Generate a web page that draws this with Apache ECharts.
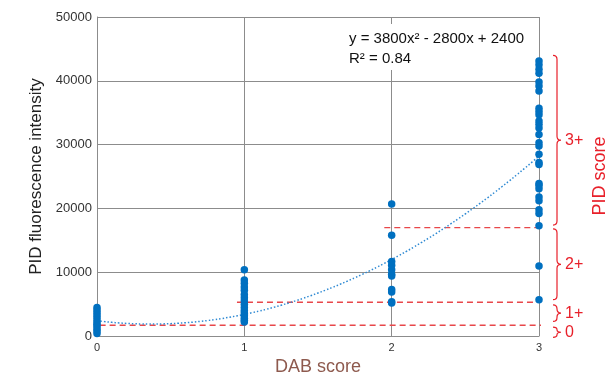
<!DOCTYPE html>
<html>
<head>
<meta charset="utf-8">
<script src="https://cdn.jsdelivr.net/npm/echarts@6/dist/echarts.min.js"></script>
<style>
  html, body { margin: 0; padding: 0; background: #fff; }
  #chart { width: 609px; height: 381px; }
</style>
</head>
<body>
<div id="chart"></div>
<script>
// measured points per DAB score
const dabScores = [0, 1, 2, 3]
const dab0 = [4500, 4100, 3700, 3300, 2900, 2500, 2100, 1800, 1500, 1100, 800, 400]
const dab1 = [10400, 8800, 8300, 7700, 7200, 6500, 6000, 5500, 5000, 4500, 4000, 3600, 3200, 2800, 2500, 2200]
const dab2 = [20700, 15800, 11700, 11100, 10400, 9700, 9400, 7300, 6900, 5400, 5200]
const dab3 = [43100, 42500, 41800, 41200, 39800, 39200, 38400, 35700, 35200, 34700, 33700, 33200,
  32600, 31600, 30300, 29800, 28500, 27200, 26900, 23900, 23600, 23100, 21800, 21200, 19800,
  19200, 17300, 11000, 5700]

// polynomial trend y = a x^2 + b x + c (from the label)
const trendCoef = [3800, -2800, 2400]

// PID score cut-offs (red dashed) and where each line starts on x
const cutoffs = [1700, 5300, 17000]
const cutoffStart = [-0.05, 0.95, 1.95]
const cutoffEnd = 3.11

// PID score braces: [low, high]
const braceLabels = ['0', '1+', '2+', '3+']
const braceLow = [-200, 2300, 5700, 17400]
const braceHigh = [1400, 4900, 16800, 44000]

const chart = echarts.init(document.getElementById('chart'))

let points = []
;[dab0, dab1, dab2, dab3].forEach((vals, i) => {
  vals.forEach(v => points.push([dabScores[i], v]))
})

let trend = []
for (let i = 0; i <= 60; i++) {
  const x = i * 0.05
  trend.push([x, trendCoef[0] * x * x + trendCoef[1] * x + trendCoef[2]])
}

let series = []
cutoffs.forEach((c, i) => {
  series.push({
    type: 'line',
    data: [[cutoffStart[i], c], [cutoffEnd, c]],
    symbol: 'none',
    clip: false,
    silent: true,
    lineStyle: { color: '#E8474A', width: 1.4, type: [6, 4] },
    z: 3
  })
})
series.push({
  type: 'line',
  data: trend,
  symbol: 'none',
  smooth: true,
  lineStyle: { color: '#2F8AD3', width: 1.5, type: [1.5, 2] },
  z: 4
})
series.push({
  type: 'scatter',
  data: points,
  symbolSize: 7.5,
  itemStyle: { color: '#0070C0', opacity: 1 },
  z: 5
})
series.push({
  type: 'custom',
  clip: false,
  silent: true,
  data: braceLabels.map((l, i) => [braceLow[i], braceHigh[i], i]),
  renderItem: function (params, api) {
    const lo = api.coord([3, api.value(0)])
    const hi = api.coord([3, api.value(1)])
    const x0 = lo[0] + 14
    const xm = x0 + 4
    const xp = xm + 4
    const yt = hi[1]
    const yb = lo[1]
    const ym = (yt + yb) / 2
    const r = Math.min(4, (yb - yt) / 4)
    const d = 'M' + x0 + ' ' + yt +
      ' Q' + xm + ' ' + yt + ' ' + xm + ' ' + (yt + r) +
      ' L' + xm + ' ' + (ym - r) +
      ' Q' + xm + ' ' + ym + ' ' + xp + ' ' + ym +
      ' Q' + xm + ' ' + ym + ' ' + xm + ' ' + (ym + r) +
      ' L' + xm + ' ' + (yb - r) +
      ' Q' + xm + ' ' + yb + ' ' + x0 + ' ' + yb
    return {
      type: 'group',
      children: [{
        type: 'path',
        shape: { pathData: d },
        style: { fill: 'none', stroke: '#E8202A', lineWidth: 1.2 }
      }, {
        type: 'text',
        x: xp + 4,
        y: ym,
        style: {
          text: braceLabels[api.value(2)],
          fill: '#E8202A',
          font: '16px "Liberation Sans", Arial, sans-serif',
          verticalAlign: 'middle'
        }
      }]
    }
  },
  z: 6
})

chart.setOption({
  animation: false,
  grid: { left: 97, right: 70, top: 17, bottom: 39 },
  xAxis: {
    type: 'value',
    min: 0,
    max: 3,
    interval: 1,
    name: 'DAB score',
    nameLocation: 'middle',
    nameGap: 20,
    nameTextStyle: { color: '#8E5A4E', fontSize: 18, fontFamily: 'Liberation Sans' },
    axisLine: { show: true, lineStyle: { color: '#8c8c8c' } },
    axisTick: { show: false },
    axisLabel: { color: '#333', fontSize: 11, margin: 6, fontFamily: 'Liberation Sans' },
    splitLine: { show: true, lineStyle: { color: '#8c8c8c', width: 1 } }
  },
  yAxis: {
    type: 'value',
    min: 0,
    max: 50000,
    interval: 10000,
    name: 'PID fluorescence intensity',
    nameLocation: 'middle',
    nameGap: 52,
    nameTextStyle: { color: '#222', fontSize: 17, fontFamily: 'Liberation Sans' },
    axisLine: { show: true, lineStyle: { color: '#8c8c8c' } },
    axisTick: { show: false },
    axisLabel: {
      color: '#333', fontSize: 13, margin: 5, fontFamily: 'Liberation Sans',
      formatter: v => String(v)
    },
    splitLine: { show: true, lineStyle: { color: '#8c8c8c', width: 1 } }
  },
  graphic: [{
    type: 'rect',
    left: 344,
    top: 24,
    shape: { width: 188, height: 46 },
    style: { fill: '#fff' },
    z: 10
  }, {
    type: 'text',
    left: 349,
    top: 31,
    z: 11,
    style: { text: 'y = 3800x² - 2800x + 2400', fill: '#111', font: '15px "Liberation Sans", Arial, sans-serif' }
  }, {
    type: 'text',
    left: 349,
    top: 51,
    z: 11,
    style: { text: 'R² = 0.84', fill: '#111', font: '15px "Liberation Sans", Arial, sans-serif' }
  }, {
    type: 'text',
    x: 600,
    y: 176,
    rotation: Math.PI / 2,
    style: {
      text: 'PID score',
      fill: '#E8202A',
      font: '18px "Liberation Sans", Arial, sans-serif',
      align: 'center',
      verticalAlign: 'middle'
    }
  }],
  series: series
})
</script>
</body>
</html>
